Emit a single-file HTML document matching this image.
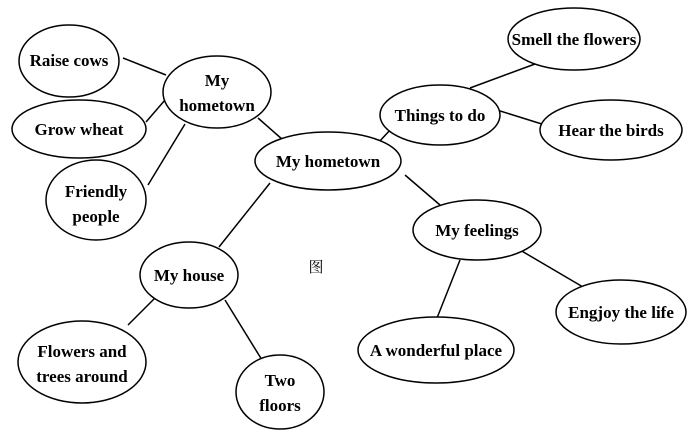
<!DOCTYPE html>
<html><head><meta charset="utf-8"><style>
html,body{margin:0;padding:0;background:#fff;}
svg text{font-family:"Liberation Serif","Noto Serif CJK SC",serif;font-weight:bold;font-size:17px;fill:#000;text-anchor:middle;}
</style></head><body>
<svg width="700" height="440" viewBox="0 0 700 440" xmlns="http://www.w3.org/2000/svg">
<g stroke="#000" stroke-width="1.5" fill="none">
<line x1="123" y1="58" x2="166" y2="75"/>
<line x1="146" y1="122" x2="165" y2="100"/>
<line x1="148" y1="185" x2="185" y2="124"/>
<line x1="258" y1="118" x2="283" y2="140"/>
<line x1="270" y1="183" x2="219" y2="247"/>
<line x1="378" y1="143" x2="392" y2="128"/>
<line x1="405" y1="175" x2="440" y2="205"/>
<line x1="470" y1="88" x2="535" y2="64"/>
<line x1="497" y1="110" x2="545" y2="125"/>
<line x1="460" y1="260" x2="437" y2="318"/>
<line x1="520" y1="250" x2="583" y2="287"/>
<line x1="155" y1="298" x2="128" y2="325"/>
<line x1="225" y1="300" x2="262" y2="360"/>
</g>
<g stroke="#000" stroke-width="1.5" fill="#fff">
<ellipse cx="69" cy="61" rx="50" ry="36"/>
<ellipse cx="217" cy="92" rx="54" ry="36"/>
<ellipse cx="79" cy="129" rx="67" ry="29"/>
<ellipse cx="96" cy="200" rx="50" ry="40"/>
<ellipse cx="328" cy="161" rx="73" ry="29"/>
<ellipse cx="440" cy="115" rx="60" ry="30"/>
<ellipse cx="574" cy="39" rx="66" ry="31"/>
<ellipse cx="611" cy="130" rx="71" ry="30"/>
<ellipse cx="477" cy="230" rx="64" ry="30"/>
<ellipse cx="621" cy="312" rx="65" ry="32"/>
<ellipse cx="436" cy="350" rx="78" ry="33"/>
<ellipse cx="189" cy="275" rx="49" ry="33"/>
<ellipse cx="82" cy="362" rx="64" ry="41"/>
<ellipse cx="280" cy="392" rx="44" ry="37"/>
</g>
<text x="69" y="66">Raise cows</text>
<text x="217" y="86">My</text>
<text x="217" y="111">hometown</text>
<text x="79" y="135">Grow wheat</text>
<text x="96" y="197">Friendly</text>
<text x="96" y="222">people</text>
<text x="328" y="167">My hometown</text>
<text x="440" y="121">Things to do</text>
<text x="574" y="45">Smell the flowers</text>
<text x="611" y="136">Hear the birds</text>
<text x="477" y="236">My feelings</text>
<text x="621" y="318">Engjoy the life</text>
<text x="436" y="356">A wonderful place</text>
<text x="189" y="281">My house</text>
<text x="82" y="357">Flowers and</text>
<text x="82" y="382">trees around</text>
<text x="280" y="386">Two</text>
<text x="280" y="411">floors</text>
<text x="316" y="272" style="font-weight:normal;font-size:15px">图</text>
</svg>
</body></html>
